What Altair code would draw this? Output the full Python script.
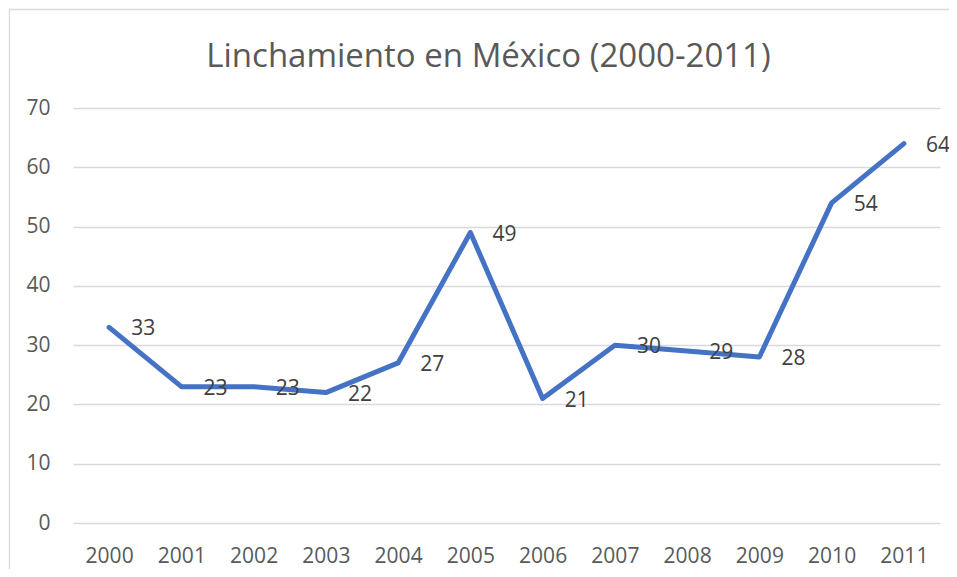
import altair as alt
import pandas as pd

years = ["2000", "2001", "2002", "2003", "2004", "2005", "2006", "2007", "2008", "2009", "2010", "2011"]
values = [33, 23, 23, 22, 27, 49, 21, 30, 29, 28, 54, 64]
y_ticks = [0, 10, 20, 30, 40, 50, 60, 70]
title_text = "Linchamiento en México (2000-2011)"

df = pd.DataFrame({"year": years, "value": values})

FONT = "Open Sans"

x_enc = alt.X("year:O", sort=years, title=None,
              scale=alt.Scale(type="point", padding=0.5),
              axis=alt.Axis(labelAngle=0, labelFontSize=21, labelColor="#595959",
                            labelFont=FONT, ticks=False, domain=False, grid=False,
                            labelPadding=22))
y_enc = alt.Y("value:Q", title=None,
              scale=alt.Scale(domain=[0, 70], nice=False),
              axis=alt.Axis(values=y_ticks, labelFontSize=21, labelColor="#595959",
                            labelFont=FONT, ticks=False, domain=False,
                            gridColor="#D9D9D9", gridWidth=1.4, labelPadding=23))

border = alt.Chart(pd.DataFrame({"k": [0]})).mark_rect(
    fill=None, fillOpacity=0, stroke="#D9D9D9", strokeWidth=1.3
).encode(x=alt.value(-63.5), x2=alt.value(900), y=alt.value(-98.5), y2=alt.value(480))

line = alt.Chart(df).mark_line(color="#4472C4", strokeWidth=5,
                               strokeCap="round", strokeJoin="round").encode(x=x_enc, y=y_enc)

labels = alt.Chart(df).mark_text(align="left", baseline="middle", dx=22, dy=2,
                                 fontSize=21, font=FONT, color="#404040").encode(
    x=alt.X("year:O", sort=years), y="value:Q", text="value:Q")

chart = alt.layer(border, line, labels).properties(
    width=867, height=415,
    title=alt.TitleParams(title_text, fontSize=33, font=FONT, fontWeight="normal",
                          color="#595959", anchor="middle", frame="group", dx=-18,
                          offset=-91, baseline="alphabetic"),
    autosize=alt.AutoSizeParams(type="none"),
    padding={"left": 65, "top": 100, "right": 9, "bottom": 46},
).configure_view(stroke=None)

chart.save("out.html", embed_options={"renderer": "svg", "actions": False})
